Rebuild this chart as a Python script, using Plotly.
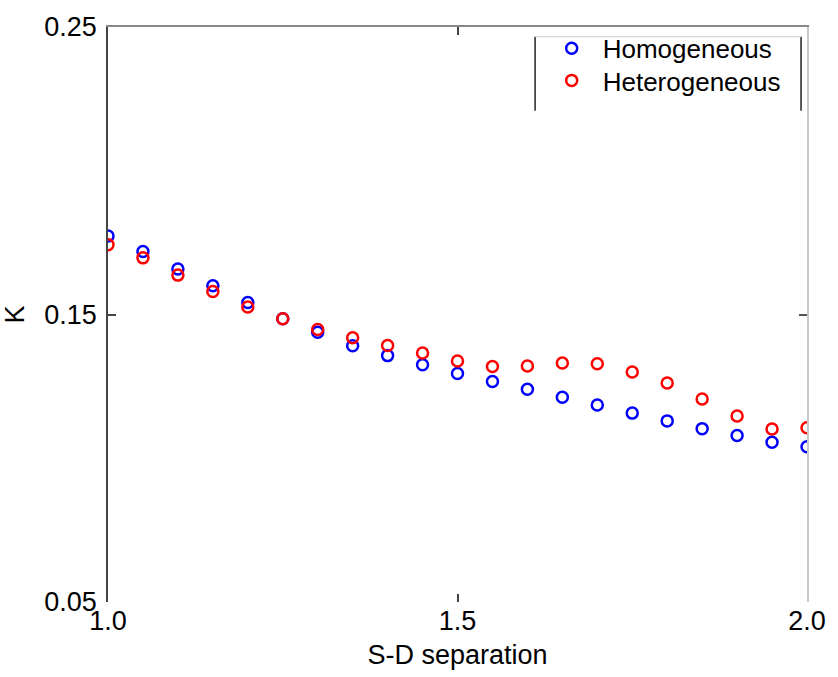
import plotly.graph_objects as go

separation = [1.0, 1.05, 1.1, 1.15, 1.2, 1.25, 1.3, 1.35, 1.4, 1.45, 1.5,
              1.55, 1.6, 1.65, 1.7, 1.75, 1.8, 1.85, 1.9, 1.95, 2.0]
k_homogeneous = [0.1773, 0.1719, 0.1658, 0.1600, 0.1542, 0.1485, 0.1438, 0.1391,
                 0.1357, 0.1325, 0.1295, 0.1267, 0.1240, 0.1212, 0.1185, 0.1157,
                 0.1130, 0.1103, 0.1079, 0.1056, 0.1040]
k_heterogeneous = [0.1743, 0.1697, 0.1637, 0.1580, 0.1526, 0.1485, 0.1448, 0.1419,
                   0.1392, 0.1366, 0.1338, 0.1319, 0.1321, 0.1331, 0.1329, 0.1300,
                   0.1262, 0.1206, 0.1147, 0.1102, 0.1106]
x_ticks = [1.0, 1.5, 2.0]
x_tick_labels = ["1.0", "1.5", "2.0"]
y_ticks = [0.05, 0.15, 0.25]
y_tick_labels = ["0.05", "0.15", "0.25"]

FONT = "Liberation Sans, Arial, Helvetica, sans-serif"

fig = go.Figure()
fig.add_trace(go.Scatter(
    x=separation, y=k_homogeneous, mode="markers", name="Homogeneous",
    marker=dict(symbol="circle-open", size=11, color="#0000ff", line=dict(width=2.5)),
    legend="legend"))
fig.add_trace(go.Scatter(
    x=separation, y=k_heterogeneous, mode="markers", name="Heterogeneous",
    marker=dict(symbol="circle-open", size=11, color="#ff0000", line=dict(width=2.5)),
    legend="legend2"))
# invisible trace to anchor mirrored axes
fig.add_trace(go.Scatter(x=[None], y=[None], xaxis="x2", yaxis="y2",
                         showlegend=False, hoverinfo="skip"))

leg_common = dict(x=0.619, xanchor="left", yanchor="middle",
                  bgcolor="rgba(0,0,0,0)", borderwidth=0,
                  font=dict(family=FONT, size=26, color="black"),
                  itemwidth=52)

fig.update_layout(
    width=838, height=677,
    margin=dict(l=108, r=25, t=17, b=70),
    paper_bgcolor="white", plot_bgcolor="white",
    font=dict(family=FONT, size=27, color="black"),
    showlegend=True,
    legend=dict(y=0.963, **leg_common),
    legend2=dict(y=0.907, **leg_common),
    xaxis=dict(range=[1.0, 2.0], tickvals=x_ticks, ticktext=x_tick_labels,
               showgrid=False, zeroline=False, showline=False,
               ticks="inside", ticklen=8, tickwidth=1.5, tickcolor="#444",
               tickfont=dict(size=27),
               title=dict(text="S-D separation", font=dict(size=27), standoff=10)),
    yaxis=dict(range=[0.05, 0.25], tickvals=y_ticks, ticktext=y_tick_labels,
               showgrid=False, zeroline=False, showline=True, linecolor="#444",
               linewidth=1.5,
               ticks="inside", ticklen=8, tickwidth=1.5, tickcolor="#444",
               tickfont=dict(size=27), ticklabelstandoff=4,
               title=dict(text="K", font=dict(size=27), standoff=12)),
    xaxis2=dict(range=[1.0, 2.0], overlaying="x", side="top", tickvals=x_ticks,
                showticklabels=False, showgrid=False, zeroline=False,
                showline=True, linecolor="#888", linewidth=2,
                ticks="inside", ticklen=8, tickwidth=1.5, tickcolor="#444",
                anchor="y2"),
    yaxis2=dict(range=[0.05, 0.25], overlaying="y", side="right", tickvals=y_ticks,
                showticklabels=False, showgrid=False, zeroline=False,
                showline=True, linecolor="#c8c8c8", linewidth=1.5,
                ticks="inside", ticklen=8, tickwidth=1.5, tickcolor="#555",
                anchor="x2"),
    shapes=[
        dict(type="line", xref="paper", yref="paper", x0=0.611, x1=0.611,
             y0=0.8545, y1=0.983, line=dict(color="#222", width=1.5)),
        dict(type="line", xref="paper", yref="paper", x0=0.9915, x1=0.9915,
             y0=0.8545, y1=0.983, line=dict(color="#222", width=1.5)),
        dict(type="line", xref="paper", yref="paper", x0=0.611, x1=0.9915,
             y0=0.983, y1=0.983, line=dict(color="#ccc", width=1)),
    ],
)

fig.write_html("out.html")
